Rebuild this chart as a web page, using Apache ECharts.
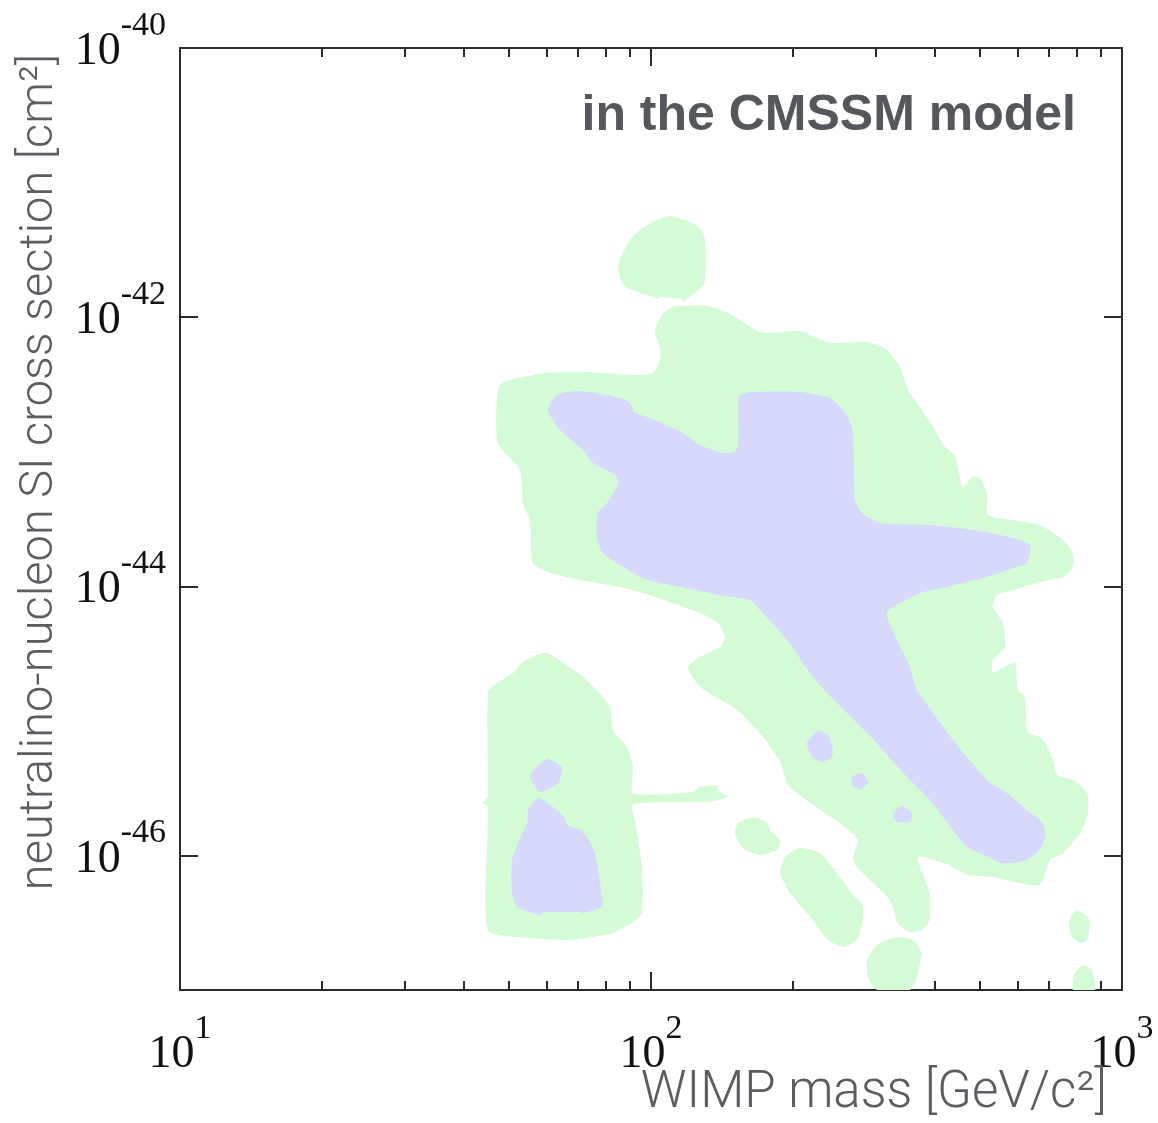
<!DOCTYPE html>
<html>
<head>
<meta charset="utf-8">
<script src="https://cdn.jsdelivr.net/npm/echarts@6/dist/echarts.min.js"></script>
<style>
  html, body { margin: 0; padding: 0; background: #ffffff; }
  #chart { width: 1158px; height: 1123px; }
</style>
</head>
<body>
<div id="chart"></div>
<script>
// Axes are in decades: x = log10(WIMP mass / GeV c^-2), y = log10(sigma_SI / cm^2)
const massDecades = [1, 2, 3];
const sigmaDecades = [-46, -44, -42, -40];
const minorMasses = [20, 30, 40, 50, 60, 70, 80, 90, 200, 300, 400, 500, 600, 700, 800, 900];

// Outer (green) allowed regions, vertices as [log10 mass, log10 sigma]
const greenTopBlob = [[2.040,-41.248],[2.079,-41.286],[2.104,-41.338],[2.115,-41.427],[2.115,-41.724],[2.108,-41.776],[2.068,-41.888],[2.066,-41.865],[2.017,-41.850],[2.015,-41.865],[1.947,-41.776],[1.932,-41.687],[1.932,-41.590],[1.955,-41.427],[1.970,-41.367],[2.002,-41.293]];

const greenMain = [[2.045,-41.925],[2.119,-41.917],[2.161,-41.962],[2.189,-42.021],[2.238,-42.118],[2.316,-42.103],[2.380,-42.192],[2.459,-42.185],[2.501,-42.244],[2.529,-42.371],[2.546,-42.541],[2.571,-42.668],[2.599,-42.816],[2.624,-42.965],[2.645,-43.024],[2.662,-43.262],[2.682,-43.188],[2.699,-43.195],[2.713,-43.307],[2.716,-43.470],[2.769,-43.507],[2.826,-43.545],[2.875,-43.656],[2.896,-43.753],[2.896,-43.857],[2.875,-43.931],[2.826,-43.968],[2.769,-44.028],[2.735,-44.065],[2.726,-44.154],[2.747,-44.273],[2.752,-44.451],[2.726,-44.548],[2.726,-44.637],[2.752,-44.600],[2.773,-44.563],[2.779,-44.771],[2.794,-44.823],[2.800,-45.083],[2.830,-45.128],[2.854,-45.291],[2.862,-45.402],[2.896,-45.440],[2.926,-45.536],[2.928,-45.685],[2.911,-45.833],[2.875,-45.982],[2.847,-46.034],[2.826,-46.220],[2.769,-46.198],[2.726,-46.160],[2.671,-46.146],[2.631,-46.071],[2.578,-46.012],[2.565,-46.019],[2.592,-46.279],[2.592,-46.480],[2.575,-46.554],[2.550,-46.569],[2.524,-46.502],[2.507,-46.331],[2.437,-46.086],[2.429,-46.012],[2.439,-45.885],[2.401,-45.759],[2.338,-45.610],[2.291,-45.477],[2.274,-45.306],[2.238,-45.120],[2.183,-44.919],[2.104,-44.748],[2.079,-44.600],[2.104,-44.526],[2.146,-44.451],[2.157,-44.377],[2.142,-44.273],[2.104,-44.199],[1.983,-44.050],[1.934,-44.005],[1.849,-43.953],[1.786,-43.901],[1.749,-43.827],[1.743,-43.507],[1.728,-43.381],[1.722,-43.136],[1.675,-42.935],[1.679,-42.504],[1.749,-42.430],[1.800,-42.408],[1.870,-42.408],[1.962,-42.430],[2.004,-42.415],[2.019,-42.319],[2.019,-42.229],[2.008,-42.110],[2.019,-42.006]];

const greenLeftIsland = [[1.781,-44.496],[1.864,-44.697],[1.913,-44.897],[1.919,-45.068],[1.949,-45.194],[1.962,-45.343],[1.962,-45.536],[2.089,-45.529],[2.104,-45.492],[2.140,-45.477],[2.142,-45.514],[2.163,-45.566],[2.140,-45.588],[2.119,-45.603],[1.962,-45.618],[1.966,-45.737],[1.981,-46.086],[1.981,-46.428],[1.962,-46.495],[1.919,-46.577],[1.828,-46.629],[1.743,-46.614],[1.654,-46.554],[1.654,-45.640],[1.643,-45.610],[1.648,-45.588],[1.654,-45.566],[1.654,-44.786],[1.673,-44.719],[1.707,-44.644],[1.728,-44.563],[1.758,-44.511]];

const greenBlobA = [[2.217,-45.715],[2.246,-45.752],[2.253,-45.811],[2.274,-45.885],[2.268,-45.960],[2.231,-45.997],[2.195,-45.945],[2.178,-45.833],[2.185,-45.759]];
const greenBlobB = [[2.316,-45.945],[2.359,-45.982],[2.401,-46.160],[2.433,-46.309],[2.450,-46.369],[2.450,-46.480],[2.437,-46.629],[2.408,-46.681],[2.376,-46.629],[2.338,-46.458],[2.295,-46.279],[2.274,-46.129],[2.285,-46.012]];
const greenBlobC = [[2.480,-46.666],[2.522,-46.606],[2.556,-46.629],[2.575,-46.725],[2.571,-46.800],[2.565,-46.904],[2.550,-47.000],[2.480,-47.000],[2.461,-46.904],[2.459,-46.777]];
const greenBlobD = [[2.904,-46.406],[2.928,-46.458],[2.932,-46.517],[2.926,-46.629],[2.911,-46.651],[2.894,-46.606],[2.887,-46.502],[2.894,-46.443]];
const greenBlobE = [[2.917,-46.814],[2.936,-46.851],[2.943,-47.000],[2.896,-47.000],[2.900,-46.874]];

// Inner (purple) favoured regions
const purpleMain = [[1.800,-42.579],[1.849,-42.549],[1.949,-42.616],[1.962,-42.675],[1.962,-42.705],[1.998,-42.750],[2.068,-42.861],[2.104,-42.950],[2.153,-43.010],[2.178,-43.002],[2.185,-42.950],[2.185,-42.638],[2.189,-42.579],[2.217,-42.556],[2.316,-42.556],[2.380,-42.601],[2.416,-42.727],[2.429,-42.861],[2.433,-43.359],[2.448,-43.455],[2.486,-43.530],[2.592,-43.545],[2.684,-43.582],[2.769,-43.641],[2.805,-43.693],[2.798,-43.827],[2.769,-43.864],[2.713,-43.931],[2.628,-44.005],[2.571,-44.050],[2.501,-44.191],[2.514,-44.340],[2.550,-44.600],[2.565,-44.771],[2.641,-45.142],[2.671,-45.269],[2.720,-45.462],[2.747,-45.514],[2.798,-45.662],[2.832,-45.759],[2.837,-45.863],[2.820,-45.982],[2.783,-46.049],[2.741,-46.056],[2.720,-46.019],[2.671,-45.937],[2.641,-45.811],[2.592,-45.588],[2.544,-45.417],[2.459,-45.090],[2.374,-44.793],[2.338,-44.644],[2.289,-44.399],[2.231,-44.176],[2.210,-44.102],[2.146,-44.065],[2.076,-44.013],[1.992,-43.953],[1.941,-43.857],[1.898,-43.753],[1.885,-43.634],[1.887,-43.455],[1.907,-43.381],[1.924,-43.285],[1.930,-43.233],[1.924,-43.173],[1.877,-43.084],[1.856,-42.987],[1.807,-42.839],[1.781,-42.690]];
const purpleLeftSmall = [[1.779,-45.284],[1.811,-45.343],[1.803,-45.462],[1.764,-45.529],[1.743,-45.410]];
const purpleLeft = [[1.764,-45.573],[1.813,-45.700],[1.822,-45.774],[1.856,-45.826],[1.881,-45.982],[1.896,-46.309],[1.896,-46.383],[1.856,-46.428],[1.849,-46.420],[1.771,-46.420],[1.764,-46.443],[1.716,-46.383],[1.705,-46.279],[1.705,-46.034],[1.737,-45.752],[1.739,-45.662],[1.754,-45.588]];
const purpleDotA = [[2.355,-45.068],[2.376,-45.105],[2.386,-45.194],[2.384,-45.269],[2.363,-45.306],[2.342,-45.269],[2.331,-45.165],[2.348,-45.090]];
const purpleDotB = [[2.448,-45.388],[2.461,-45.454],[2.444,-45.514],[2.427,-45.477],[2.427,-45.417]];
const purpleDotC = [[2.535,-45.633],[2.554,-45.685],[2.550,-45.752],[2.524,-45.752],[2.514,-45.715],[2.524,-45.648]];

const greenRegions = [greenTopBlob, greenMain, greenLeftIsland, greenBlobA, greenBlobB, greenBlobC, greenBlobD, greenBlobE];
const purpleRegions = [purpleMain, purpleLeftSmall, purpleLeft, purpleDotA, purpleDotB, purpleDotC];

const GREEN = '#d4fbd6';
const PURPLE = '#d6d8fc';
const AXIS = '#2b2b2b';

function regionSeries(name, regions, color, z) {
  return {
    type: 'custom',
    name: name,
    xAxisIndex: 0,
    yAxisIndex: 0,
    clip: true,
    silent: true,
    z: z,
    encode: { x: 0, y: 1 },
    data: regions.map((r, i) => [r[0][0], r[0][1], i]),
    renderItem: function (params, api) {
      const region = regions[api.value(2)];
      return {
        type: 'polygon',
        shape: { points: region.map(p => api.coord(p)), smooth: 0.2 },
        style: { fill: color }
      };
    }
  };
}

// "10" with a raised exponent; the empty strut token sets the line height
const powerLabel = {
  fontFamily: 'Liberation Serif',
  fontSize: 46,
  color: '#111',
  rich: {
    b: { fontFamily: 'Liberation Serif', fontSize: 46, lineHeight: 46, color: '#111', verticalAlign: 'bottom' },
    s: { fontFamily: 'Liberation Serif', fontSize: 34, lineHeight: 34, color: '#111', verticalAlign: 'top' },
    p: { fontSize: 2, lineHeight: 66, width: 0 }
  },
  formatter: v => '{b|10}{s|' + Math.round(v) + '}{p|\u200b}'
};

const minorDecades = minorMasses.map(m => Math.log10(m));

function xAxisDef(position, ticks, length, withLine, withLabel) {
  return {
    type: 'value', position: position, min: 1, max: 3,
    axisLine: { show: withLine, onZero: false, lineStyle: { color: AXIS, width: 2 } },
    axisTick: { show: true, inside: true, length: length, customValues: ticks, lineStyle: { color: AXIS, width: 2 } },
    axisLabel: withLabel ? Object.assign({ show: true, customValues: massDecades, margin: 22 }, powerLabel) : { show: false },
    splitLine: { show: false }
  };
}

const chart = echarts.init(document.getElementById('chart'), null, { renderer: 'canvas' });
chart.setOption({
  animation: false,
  backgroundColor: '#ffffff',
  grid: { left: 180, right: 36, top: 48, bottom: 133 },
  xAxis: [
    xAxisDef('bottom', massDecades, 18, true, true),
    xAxisDef('bottom', minorDecades, 9, false, false),
    xAxisDef('top', massDecades, 18, true, false),
    xAxisDef('top', minorDecades, 9, false, false)
  ],
  yAxis: [
    {
      type: 'value', position: 'left', min: -47, max: -40,
      axisLine: { show: true, onZero: false, lineStyle: { color: AXIS, width: 2 } },
      axisTick: { show: true, inside: true, length: 18, customValues: sigmaDecades, lineStyle: { color: AXIS, width: 2 } },
      axisLabel: Object.assign({ show: true, customValues: sigmaDecades, margin: 14, padding: [0, 0, 12, 0] }, powerLabel),
      splitLine: { show: false }
    },
    {
      type: 'value', position: 'right', min: -47, max: -40,
      axisLine: { show: true, onZero: false, lineStyle: { color: AXIS, width: 2 } },
      axisTick: { show: true, inside: true, length: 18, customValues: sigmaDecades, lineStyle: { color: AXIS, width: 2 } },
      axisLabel: { show: false },
      splitLine: { show: false }
    }
  ],
  series: [
    regionSeries('green', greenRegions, GREEN, 1),
    regionSeries('purple', purpleRegions, PURPLE, 2)
  ],
  graphic: [
    {
      type: 'text', x: 1076, y: 116, z: 10,
      style: { text: 'in the CMSSM model', font: 'bold 50px "Liberation Sans"', fill: '#54585c', align: 'right', verticalAlign: 'middle' }
    },
    {
      type: 'text', x: 1107, y: 1094, z: 10,
      style: { text: 'WIMP mass [GeV/c\u00b2]', font: '300 51px Roboto', fill: '#5a5d61', align: 'right', verticalAlign: 'middle' }
    },
    {
      type: 'text', x: 40, y: 472, rotation: Math.PI / 2, z: 10,
      style: { text: 'neutralino-nucleon SI cross section [cm\u00b2]', font: '300 47px Roboto', fill: '#5a5d61', align: 'center', verticalAlign: 'middle' }
    }
  ]
});
</script>
</body>
</html>
